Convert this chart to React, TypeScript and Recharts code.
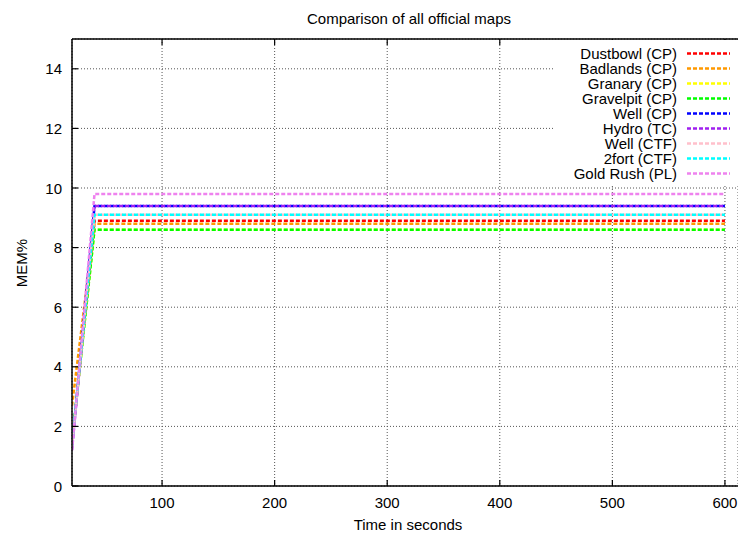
import React from "react";
import {
  LineChart,
  Line,
  XAxis,
  YAxis,
  CartesianGrid,
  ReferenceLine,
} from "recharts";

// sample times (seconds) and memory usage per map
const times = [20, 40, 600];

const dustbowl = [1.4, 8.9, 8.9];
const badlands = [2.7, 8.8, 8.8];
const granary = [1.5, 8.6, 8.6];
const gravelpit = [1.5, 8.6, 8.6];
const wellCp = [1.3, 9.4, 9.4];
const hydro = [1.2, 9.4, 9.4];
const wellCtf = [1.3, 9.1, 9.1];
const twofort = [1.4, 9.1, 9.1];
const goldRush = [1.2, 9.8, 9.8];

const seriesNames = [
  "Dustbowl (CP)",
  "Badlands (CP)",
  "Granary (CP)",
  "Gravelpit (CP)",
  "Well (CP)",
  "Hydro (TC)",
  "Well (CTF)",
  "2fort (CTF)",
  "Gold Rush (PL)",
];
const seriesValues = [
  dustbowl,
  badlands,
  granary,
  gravelpit,
  wellCp,
  hydro,
  wellCtf,
  twofort,
  goldRush,
];
const seriesColors = [
  "#ff0000",
  "#ff9900",
  "#ffff00",
  "#00ff00",
  "#0000ff",
  "#a020f0",
  "#ffc0cb",
  "#00ffff",
  "#ee82ee",
];

const xTicks = [100, 200, 300, 400, 500, 600];
const yTicks = [0, 2, 4, 6, 8, 10, 12, 14];

const rows = times.map((t, i) => {
  const r: Record<string, number> = { t };
  seriesNames.forEach((n, k) => {
    r[n] = seriesValues[k][i];
  });
  return r;
});

const W = 730;
const H = 526;
const TOP = 31;
const FONT = "'Liberation Sans', Arial, Helvetica, sans-serif";
const DASH = "4 2";

const YTick = (props: any) => {
  const { x, y, payload } = props;
  return (
    <g>
      <line x1={x} x2={x + 6} y1={y} y2={y} stroke="#000" strokeWidth={1.2} />
      <text
        x={x - 10}
        y={y}
        textAnchor="end"
        dominantBaseline="central"
        fontSize={15}
        fontFamily={FONT}
        fill="#000"
      >
        {payload.value}
      </text>
    </g>
  );
};

const XTick = (props: any) => {
  const { x, y, payload } = props;
  return (
    <g>
      <line x1={x} x2={x} y1={y} y2={y - 6} stroke="#000" strokeWidth={1.2} />
      <line x1={x} x2={x} y1={TOP} y2={TOP + 6} stroke="#000" strokeWidth={1.2} />
      <text
        x={x}
        y={y + 16}
        textAnchor="middle"
        dominantBaseline="central"
        fontSize={15}
        fontFamily={FONT}
        fill="#000"
      >
        {payload.value}
      </text>
    </g>
  );
};

// key box in the top-right corner, opaque so the grid stops behind it
const KeyBox = () => (
  <g transform="translate(545,32)">
    <rect x={0} y={0} width={185} height={144} fill="#fff" />
    {seriesNames.map((n, i) => {
      const cy = 13.5 + i * 15;
      return (
        <g key={n}>
          <text
            x={124}
            y={cy}
            textAnchor="end"
            dominantBaseline="central"
            fontSize={15}
            fontFamily={FONT}
            fill="#000"
          >
            {n}
          </text>
          <line
            x1={134}
            x2={177}
            y1={cy}
            y2={cy}
            stroke={seriesColors[i]}
            strokeWidth={2.5}
            strokeDasharray={DASH}
          />
        </g>
      );
    })}
  </g>
);

export default function App() {
  return (
    <div
      style={{
        width: 738,
        height: 534,
        boxSizing: "border-box",
        padding: "8px 0 0 8px",
        background: "#fff",
      }}
    >
      <style>{"body{margin:0}"}</style>
      <div style={{ position: "relative", width: W, height: H }}>
        <LineChart
          width={W}
          height={H}
          data={rows}
          margin={{ top: TOP, right: 0, bottom: 0, left: 0 }}
        >
          <CartesianGrid stroke="#555" strokeDasharray="1 2" />
          <XAxis
            type="number"
            dataKey="t"
            domain={[20, 611.6]}
            ticks={xTicks}
            height={48}
            tickSize={0}
            tickMargin={0}
            tickLine={false}
            tick={<XTick />}
            axisLine={{ stroke: "#000", strokeWidth: 1.5 }}
            allowDataOverflow
          />
          <YAxis
            type="number"
            domain={[0, 15]}
            ticks={yTicks}
            width={64}
            tickSize={0}
            tickMargin={0}
            tickLine={false}
            tick={<YTick />}
            axisLine={{ stroke: "#000", strokeWidth: 1.5 }}
            allowDataOverflow
          />
          <ReferenceLine y={15} stroke="#000" strokeWidth={1.5} />
          {seriesNames.map((n, k) => (
            <Line
              key={n}
              type="linear"
              dataKey={n}
              name={n}
              stroke={seriesColors[k]}
              strokeWidth={2.5}
              strokeDasharray={DASH}
              dot={false}
              isAnimationActive={false}
            />
          ))}
        </LineChart>
        <svg
          width={W}
          height={H}
          style={{ position: "absolute", left: 0, top: 0, pointerEvents: "none" }}
        >
          <KeyBox />
          <text
            x={401}
            y={10}
            textAnchor="middle"
            dominantBaseline="central"
            fontSize={15}
            fontFamily={FONT}
            fill="#000"
          >
            Comparison of all official maps
          </text>
          <text
            x={400}
            y={516}
            textAnchor="middle"
            dominantBaseline="central"
            fontSize={15}
            fontFamily={FONT}
            fill="#000"
          >
            Time in seconds
          </text>
          <text
            x={13}
            y={255}
            textAnchor="middle"
            dominantBaseline="central"
            fontSize={15}
            fontFamily={FONT}
            fill="#000"
            transform="rotate(-90 13 255)"
          >
            MEM%
          </text>
        </svg>
      </div>
    </div>
  );
}
